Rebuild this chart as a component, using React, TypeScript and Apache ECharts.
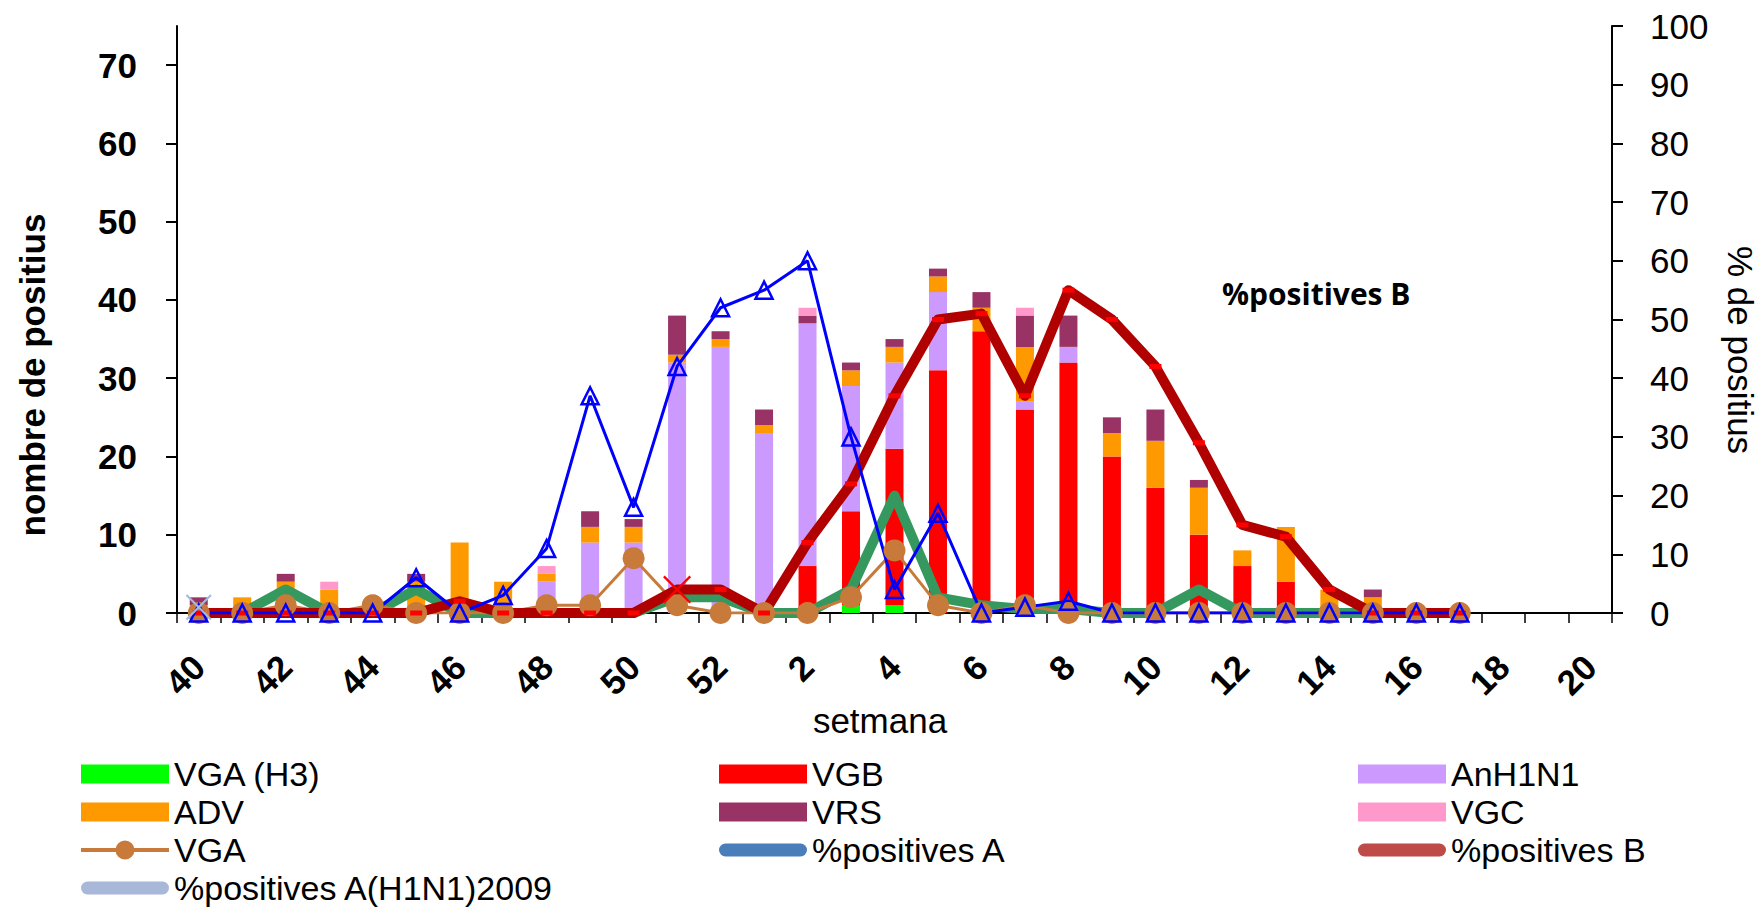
import React, { useEffect, useRef } from 'react';
import * as echarts from 'echarts';

// ---------- data ----------
const weeks = ['40', '41', '42', '43', '44', '45', '46', '47', '48', '49', '50', '51', '52',
  '1', '2', '3', '4', '5', '6', '7', '8', '9', '10', '11', '12', '13', '14', '15', '16', '17', '18', '19', '20'];

// stacked counts (left axis)
const vgaH3 = [0, 0, 0, 0, 0, 0, 0, 0, 0, 0, 0, 0, 0, 0, 0, 1, 1, 0, 0, 0, 0, 0, 0, 0, 0, 0, 0, 0, 0, 0, 0, 0, 0];
const vgb = [0, 0, 0, 0, 0, 0, 0, 0, 0, 0, 0, 0, 0, 0, 6, 12, 20, 31, 36, 26, 32, 20, 16, 10, 6, 4, 0, 0, 0, 0, 0, 0, 0];
const anH1N1 = [0, 0, 0, 0, 0, 0, 0, 0, 4, 9, 9, 32, 34, 23, 31, 16, 11, 10, 0, 1, 2, 0, 0, 0, 0, 0, 0, 0, 0, 0, 0, 0, 0];
const adv = [1, 2, 4, 3, 0, 4, 9, 4, 1, 2, 2, 1, 1, 1, 0, 2, 2, 2, 3, 7, 0, 3, 6, 6, 2, 7, 3, 2, 0, 0, 0, 0, 0];
const vrs = [1, 0, 1, 0, 0, 1, 0, 0, 0, 2, 1, 5, 1, 2, 1, 1, 1, 1, 2, 4, 4, 2, 4, 1, 0, 0, 0, 1, 0, 0, 0, 0, 0];
const vgc = [0, 0, 0, 1, 0, 0, 0, 0, 1, 0, 0, 0, 0, 0, 1, 0, 0, 0, 0, 1, 0, 0, 0, 0, 0, 0, 0, 0, 0, 0, 0, 0, 0];

// lines on left axis
const greenLine = [0, 0, 3, 0, 0, 3, 0, 0, 0, 0, 0, 2, 2, 0, 0, 3, 15, 2, 1, 0.5, 0.5, 0, 0, 3, 0, 0, 0, 0, 0, 0];
const vga = [0, 0, 1, 0, 1, 0, 0, 0, 1, 1, 7, 1, 0, 0, 0, 2, 8, 1, 0, 1, 0, 0, 0, 0, 0, 0, 0, 0, 0, 0];

// lines on right axis (%)
const pctA = [0, 0, 0, 0, 0, 6, 0, 3, 11, 37, 18, 42, 52, 55, 60, 30, 4, 17, 0, 1, 2, 0, 0, 0, 0, 0, 0, 0, 0, 0];
const pctB = [0, 0, 0, 0, 0, 0, 2, 0, 0, 0, 0, 4, 4, 0, 12, 22, 37, 50, 51, 37, 55, 50, 42, 29, 15, 13, 4, 0, 0, 0];
const pctAH1N1 = [1];
const redXWeek = '51';

const leftTicks = [0, 10, 20, 30, 40, 50, 60, 70];

const FONT = '"Liberation Sans", Arial, sans-serif';
const X_PATH = 'path://M0,1.5L1.5,0L13,11.5L24.5,0L26,1.5L14.5,13L26,24.5L24.5,26L13,14.5L1.5,26L0,24.5L11.5,13Z';
const CAPSULE = 'path://M0,0M88,19M6.5,3L81.5,3A6.5,6.5 0 0 1 81.5,16L6.5,16A6.5,6.5 0 0 1 6.5,3Z';
const LINE_CIRCLE = 'path://M0,7.5L88,7.5L88,11.5L0,11.5ZM34.5,9.5A9.5,9.5 0 1 1 53.5,9.5A9.5,9.5 0 1 1 34.5,9.5Z';

function buildOption() {
  const bar = (name: string, data: number[], color: string) => ({
    type: 'bar', name, data, stack: 'total', barWidth: 18, yAxisIndex: 0,
    itemStyle: { color }, emphasis: { disabled: true },
  });
  const xIdx = weeks.indexOf(redXWeek);
  const pctBData = pctB.map((v, i) =>
    i === xIdx ? { value: v, symbol: X_PATH, symbolSize: 28, itemStyle: { color: '#FF0000' } } : v);

  const legendBase = {
    orient: 'vertical', itemGap: 4, itemWidth: 88, itemHeight: 19, padding: 0,
    selectedMode: false, top: 757, height: 200,
    textStyle: { fontSize: 34, fontFamily: FONT, color: '#000' },
  };
  const legendIcon = (color: string) => ({ color, borderWidth: 0, borderColor: color });

  return {
    animation: false,
    backgroundColor: '#fff',
    grid: { left: 177, right: 152, top: 26, bottom: 301, containLabel: false },
    xAxis: {
      type: 'category', data: weeks, boundaryGap: true,
      axisLine: { show: true, lineStyle: { color: '#000', width: 2 } },
      axisTick: { show: true, interval: 0, length: 10, lineStyle: { color: '#000', width: 1.5 } },
      axisLabel: {
        interval: 1, rotate: 45, fontSize: 35, fontWeight: 'bold', fontFamily: FONT,
        color: '#000', margin: 48,
      },
      splitLine: { show: false },
    },
    yAxis: [
      {
        type: 'value', min: 0, max: 75, interval: 10, position: 'left',
        axisLine: { show: true, lineStyle: { color: '#000', width: 2 } },
        axisTick: { show: true, length: 11, lineStyle: { color: '#000', width: 2 }, customValues: leftTicks },
        axisLabel: {
          customValues: leftTicks, fontSize: 35, fontWeight: 'bold',
          fontFamily: FONT, color: '#000', margin: 40,
        },
        splitLine: { show: false },
      },
      {
        type: 'value', min: 0, max: 100, interval: 10, position: 'right',
        axisLine: { show: true, lineStyle: { color: '#000', width: 2 } },
        axisTick: { show: true, length: 11, lineStyle: { color: '#000', width: 2 } },
        axisLabel: { fontSize: 35, fontFamily: FONT, color: '#000', margin: 38 },
        splitLine: { show: false },
      },
    ],
    legend: [
      {
        ...legendBase, left: 81,
        data: [
          { name: 'VGA (H3)', icon: 'rect', itemStyle: legendIcon('#00FF00') },
          { name: 'ADV', icon: 'rect', itemStyle: legendIcon('#FF9900') },
          { name: 'VGA', icon: LINE_CIRCLE, itemStyle: legendIcon('#C87A3A') },
          { name: '%positives A(H1N1)2009', icon: CAPSULE, itemStyle: legendIcon('#A7B8D8') },
        ],
      },
      {
        ...legendBase, left: 719,
        data: [
          { name: 'VGB', icon: 'rect', itemStyle: legendIcon('#FF0000') },
          { name: 'VRS', icon: 'rect', itemStyle: legendIcon('#993366') },
          { name: '%positives A', icon: CAPSULE, itemStyle: legendIcon('#4A7EBB') },
        ],
      },
      {
        ...legendBase, left: 1358,
        data: [
          { name: 'AnH1N1', icon: 'rect', itemStyle: legendIcon('#CC99FF') },
          { name: 'VGC', icon: 'rect', itemStyle: legendIcon('#FF99CC') },
          { name: '%positives B', icon: CAPSULE, itemStyle: legendIcon('#BE4B48') },
        ],
      },
    ],
    graphic: [
      {
        type: 'text', x: 32, y: 375, rotation: Math.PI / 2,
        style: { text: 'nombre de positius', fontSize: 35, fontWeight: 'bold', fontFamily: FONT, fill: '#000', align: 'center', verticalAlign: 'middle' },
      },
      {
        type: 'text', x: 1740, y: 350, rotation: -Math.PI / 2,
        style: { text: '% de positius', fontSize: 35, fontFamily: FONT, fill: '#000', align: 'center', verticalAlign: 'middle' },
      },
      {
        type: 'text', x: 880, y: 720,
        style: { text: 'setmana', fontSize: 35, fontFamily: FONT, fill: '#000', align: 'center', verticalAlign: 'middle' },
      },
      {
        type: 'text', x: 1222, y: 293,
        style: { text: '%positives B', fontSize: 30, fontWeight: 'bold', fontFamily: '"Open Sans", sans-serif', fill: '#000', align: 'left', verticalAlign: 'middle' },
      },
    ],
    series: [
      bar('VGA (H3)', vgaH3, '#00FF00'),
      bar('VGB', vgb, '#FF0000'),
      bar('AnH1N1', anH1N1, '#CC99FF'),
      bar('ADV', adv, '#FF9900'),
      bar('VRS', vrs, '#993366'),
      bar('VGC', vgc, '#FF99CC'),
      {
        type: 'line', name: '%positives A(H3)', data: greenLine, yAxisIndex: 0,
        symbol: 'none', showSymbol: false,
        lineStyle: { color: '#35995F', width: 10, join: 'round' }, itemStyle: { color: '#35995F' },
      },
      {
        type: 'line', name: 'VGA', data: vga, yAxisIndex: 0,
        symbol: 'circle', symbolSize: 22, showAllSymbol: true,
        lineStyle: { color: '#C87A3A', width: 3 }, itemStyle: { color: '#C87A3A' },
      },
      {
        type: 'line', name: '%positives B', data: pctBData, yAxisIndex: 1,
        symbol: 'rect', symbolSize: [12, 5], showAllSymbol: true,
        lineStyle: { color: '#B00000', width: 10, join: 'round' }, itemStyle: { color: '#FF0000' },
      },
      {
        type: 'line', name: '%positives A', data: pctA, yAxisIndex: 1,
        symbol: 'triangle', symbolSize: 17, showAllSymbol: true,
        lineStyle: { color: '#0000FF', width: 3 },
        itemStyle: { color: 'rgba(255,255,255,0)', borderColor: '#0000FF', borderWidth: 2.5 },
      },
      {
        type: 'line', name: '%positives A(H1N1)2009', data: pctAH1N1, yAxisIndex: 1,
        symbol: X_PATH, symbolSize: 26, showAllSymbol: true,
        lineStyle: { color: '#A7B8D8', width: 6 }, itemStyle: { color: '#A7B8D8' },
      },
    ],
  };
}

export default function App() {
  const ref = useRef<HTMLDivElement>(null);
  useEffect(() => {
    if (!ref.current) return;
    const chart = echarts.init(ref.current, null, { renderer: 'svg' });
    chart.setOption(buildOption() as any);
    return () => chart.dispose();
  }, []);
  return (
    <div
      ref={ref}
      style={{ position: 'fixed', left: 0, top: 0, width: 1764, height: 914, background: '#fff' }}
    />
  );
}
